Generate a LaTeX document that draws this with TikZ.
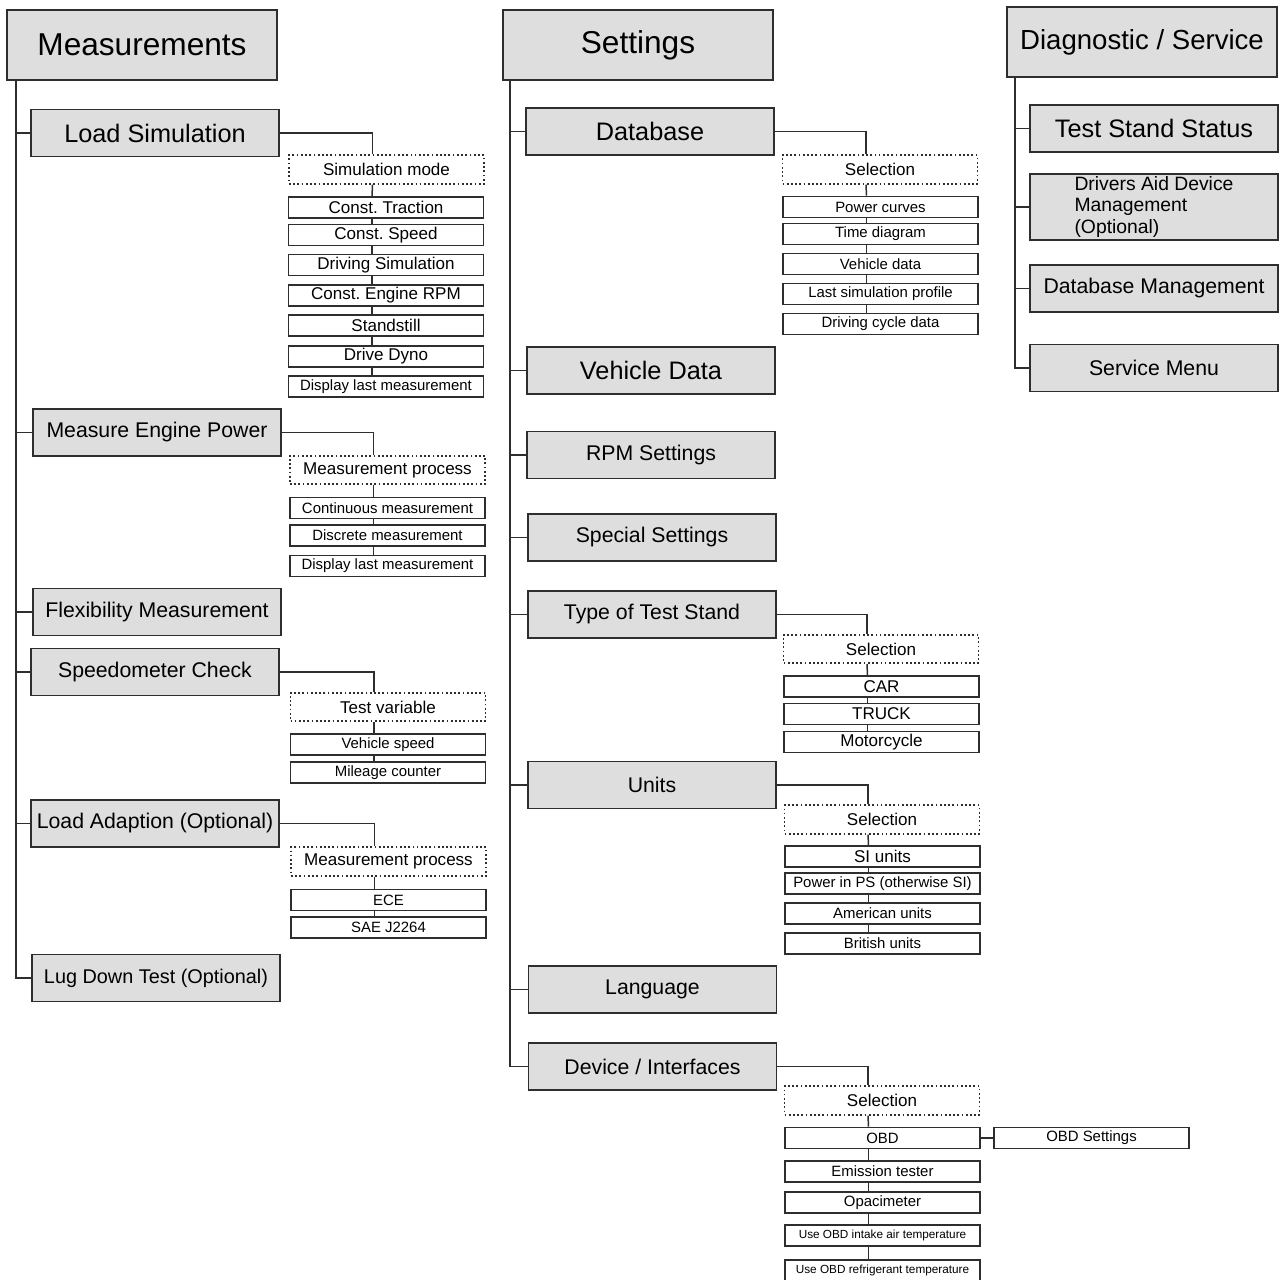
\documentclass[tikz,border=0pt]{standalone}
\usepackage{fontspec}
\setmainfont{Liberation Sans}
\frenchspacing
\definecolor{MenuGray}{HTML}{DEDEDE}
\definecolor{MenuLine}{HTML}{2E2E2E}

\begin{document}
\begin{tikzpicture}[x=0.02cm,y=-0.02cm]
    \tikzset{
      rootbox/.style={draw=MenuLine,fill=MenuGray,line width=1pt,minimum width=5.4cm,minimum height=1.4cm,inner sep=0pt,font=\fontsize{18}{21}\selectfont},
      menubox/.style={draw=MenuLine,fill=MenuGray,line width=1pt,minimum width=4.96cm,minimum height=0.94cm,inner sep=0pt,font=\fontsize{12.1}{14}\selectfont},
      menubig/.style={menubox,font=\fontsize{14.4}{16}\selectfont},
      choicebox/.style={draw=MenuLine,fill=white,line width=1pt,dash pattern=on 1pt off 1.4pt,minimum width=3.9cm,minimum height=0.57cm,inner sep=0pt,font=\fontsize{9.7}{11}\selectfont},
      optbox/.style={draw=MenuLine,fill=white,line width=0.9pt,minimum width=3.9cm,minimum height=0.42cm,inner sep=0pt,font=\fontsize{9.7}{11}\selectfont},
      optsmall/.style={optbox,font=\fontsize{8.5}{10}\selectfont},
      opttiny/.style={optbox,font=\fontsize{6.7}{8}\selectfont},
      link/.style={draw=MenuLine,line width=0.85pt}
    }
    \useasboundingbox (0,0) rectangle (1282,1280);

    % Measurements
    \node[rootbox] (meas) at (142,45) {Measurements};
    \node[menubig] (loadsim) at (155,133) {Load Simulation};
    \node[choicebox] (simmode) at (386.5,169.5) {Simulation mode};
    \node[optbox] (ctrac) at (386,207.5) {Const. Traction};
    \node[optbox] (cspeed) at (386,235) {Const. Speed};
    \node[optbox] (drivsim) at (386,265) {Driving Simulation};
    \node[optbox] (crpm) at (386,295.5) {Const. Engine RPM};
    \node[optbox] (standstill) at (386,325.5) {Standstill};
    \node[optbox] (dyno) at (386,356.5) {Drive Dyno};
    \node[optsmall] (lastsim) at (386,386.5) {Display last measurement};
    \node[menubox] (engpow) at (157,432.5) {Measure Engine Power};
    \node[choicebox] (powproc) at (387.5,470) {Measurement process};
    \node[optsmall] (contmeas) at (387.5,508) {Continuous measurement};
    \node[optsmall] (discmeas) at (387.5,535.5) {Discrete measurement};
    \node[optsmall] (lastpow) at (387.5,566) {Display last measurement};
    \node[menubox] (flex) at (157,612) {Flexibility Measurement};
    \node[menubox] (speedo) at (155,672) {Speedometer Check};
    \node[choicebox] (testvar) at (388,707) {Test variable};
    \node[optsmall] (vspeed) at (388,744.5) {Vehicle speed};
    \node[optsmall] (mileage) at (388,772.5) {Mileage counter};
    \node[menubox] (adapt) at (155,823.5) {Load Adaption (Optional)};
    \node[choicebox] (adaptproc) at (388.5,861.5) {Measurement process};
    \node[optsmall] (ece) at (388.5,900) {ECE};
    \node[optsmall] (sae) at (388.5,927.5) {SAE J2264};
    \node[menubox,font=\fontsize{11.3}{13}\selectfont] (lugdown) at (156,978) {Lug Down Test (Optional)};

    % Settings
    \node[rootbox] (settings) at (638,45) {Settings};
    \node[menubig] (database) at (650,131.5) {Database};
    \node[choicebox] (dbsel) at (880,169.5) {Selection};
    \node[optsmall] (curves) at (880.5,207) {Power curves};
    \node[optsmall] (timediag) at (880.5,234) {Time diagram};
    \node[optsmall] (vdata) at (880.5,264) {Vehicle data};
    \node[optsmall] (lastprof) at (880.5,294) {Last simulation profile};
    \node[optsmall] (cycle) at (880.5,324) {Driving cycle data};
    \node[menubig] (vehdata) at (651,370.5) {Vehicle Data};
    \node[menubox] (rpm) at (651,455) {RPM Settings};
    \node[menubox] (special) at (652,537.5) {Special Settings};
    \node[menubox] (standtype) at (652,614.5) {Type of Test Stand};
    \node[choicebox] (typesel) at (881,649) {Selection};
    \node[optbox] (car) at (881.5,686.5) {CAR};
    \node[optbox] (truck) at (881.5,714) {TRUCK};
    \node[optbox] (moto) at (881.5,742) {Motorcycle};
    \node[menubox] (units) at (652,785) {Units};
    \node[choicebox] (unitsel) at (882,819.5) {Selection};
    \node[optbox] (siunits) at (882.5,856.5) {SI units};
    \node[optsmall] (psunits) at (882.5,883.5) {Power in PS (otherwise SI)};
    \node[optsmall] (usunits) at (882.5,913.5) {American units};
    \node[optsmall] (ukunits) at (882.5,943.5) {British units};
    \node[menubox] (language) at (652.5,989.5) {Language};
    \node[menubox] (devices) at (652.5,1066.5) {Device / Interfaces};
    \node[choicebox] (devsel) at (882,1100.5) {Selection};
    \node[optsmall] (obd) at (882.5,1138) {OBD};
    \node[optsmall] (obdset) at (1091.5,1138) {OBD Settings};
    \node[optsmall] (emis) at (882.5,1171.5) {Emission tester};
    \node[optsmall] (opac) at (882.5,1202.5) {Opacimeter};
    \node[opttiny] (intake) at (882.5,1235.5) {Use OBD intake air temperature};
    \node[opttiny] (refrig) at (882.5,1270.5) {Use OBD refrigerant temperature};

    % Diagnostic / Service
    \node[rootbox,font=\fontsize{15.7}{18}\selectfont] (diag) at (1142,42) {Diagnostic / Service};
    \node[menubig] (standstat) at (1154,128.5) {Test Stand Status};
    \node[menubox,minimum height=1.32cm,align=left,font=\fontsize{11}{12.2}\selectfont] (driveaid) at (1154,207) {Drivers Aid Device\\Management\\(Optional)};
    \node[menubox] (dbman) at (1154,288.5) {Database Management};
    \node[menubox] (service) at (1154,368) {Service Menu};

    % trunks
    \coordinate (mtrunk) at ([xshift=0.2cm]meas.south west);
    \coordinate (strunk) at ([xshift=0.16cm]settings.south west);
    \coordinate (dtrunk) at ([xshift=0.18cm]diag.south west);
    \draw[link] (mtrunk) |- (lugdown.west);
    \draw[link] (strunk) |- (devices.west);
    \draw[link] (dtrunk) |- (service.west);
    \foreach \n in {loadsim,engpow,flex,speedo,adapt}
      \draw[link] (mtrunk |- \n.west) -- (\n.west);
    \foreach \n in {database,vehdata,rpm,special,standtype,units,language}
      \draw[link] (strunk |- \n.west) -- (\n.west);
    \foreach \n in {standstat,driveaid,dbman}
      \draw[link] (dtrunk |- \n.west) -- (\n.west);

    % branches
    \foreach \a/\b in {loadsim/simmode,engpow/powproc,speedo/testvar,adapt/adaptproc,
                       database/dbsel,standtype/typesel,units/unitsel,devices/devsel}
      \draw[link] (\a.east) -| ([xshift=-0.28cm]\b.north);
    \foreach \a/\b in {simmode/ctrac,ctrac/cspeed,cspeed/drivsim,drivsim/crpm,crpm/standstill,
                       standstill/dyno,dyno/lastsim,powproc/contmeas,contmeas/discmeas,
                       discmeas/lastpow,testvar/vspeed,vspeed/mileage,adaptproc/ece,ece/sae,
                       dbsel/curves,curves/timediag,timediag/vdata,vdata/lastprof,lastprof/cycle,
                       typesel/car,car/truck,truck/moto,unitsel/siunits,siunits/psunits,
                       psunits/usunits,usunits/ukunits,devsel/obd,obd/emis,emis/opac,
                       opac/intake,intake/refrig}
      \draw[link] ([xshift=-0.28cm]\a.south) -- ([xshift=-0.28cm]\b.north);
    \draw[link] (obd.east) -- (obdset.west);
  \end{tikzpicture}
\end{document}
